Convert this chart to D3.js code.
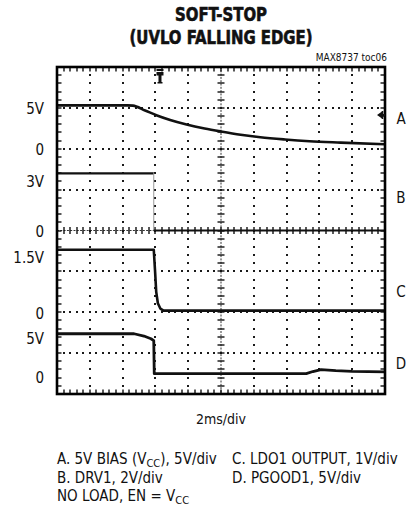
<!DOCTYPE html>
<html><head><meta charset="utf-8">
<script src="https://cdn.jsdelivr.net/npm/d3@7"></script>
<style>
body{margin:0;background:#fff;}
svg{display:block;}
text{font-family:"Liberation Sans Narrow","Arial Narrow","DejaVu Sans Condensed",sans-serif;fill:#111;}
</style></head>
<body><svg id="c" width="419" height="506"></svg>
<script>
// ---- data (oscilloscope traces; time in ms, values in volts) ----
const channels = ["A","B","C","D"];
const voltsPerDiv = [5, 2, 1, 5];
const zeroDiv = [2, 4, 6, 7.55];          // screen position of each channel's 0 V, in divisions from top

const aTime = [0, 4.3, 4.63, 5.37, 6.1, 6.9, 7.9, 9.0, 10.0, 11.2, 12.4, 13.9, 15.4, 17.3, 20];
const aVolt = [5.3, 5.3, 5.28, 4.68, 4.07, 3.52, 2.97, 2.48, 2.11, 1.71, 1.40, 1.13, 0.92, 0.75, 0.54];

const bTime = [0, 5.9, 5.9, 20];
const bVolt = [2.8, 2.8, 0, 0];

const cTime = [0, 5.9, 5.98, 6.05, 6.15, 6.3, 6.5, 20];
const cVolt = [1.53, 1.53, 1.0, 0.5, 0.22, 0.09, 0.04, 0.04];

const dTime = [0, 4.7, 5.3, 5.73, 5.9, 5.93, 15.2, 15.6, 16.1, 17, 18, 20];
const dVolt = [5.12, 5.12, 4.84, 4.51, 4.27, 0.24, 0.24, 0.5, 0.73, 0.6, 0.52, 0.45];

const tickLabels = ["5V","0","3V","0","1.5V","0","5V","0"];
const timePerDiv = 2;   // ms/div
const triggerTime = 6.28;
const titleLines = ["SOFT-STOP","(UVLO FALLING EDGE)"];
const legendLeft = [["A. 5V BIAS (V","CC","), 5V/div"],["B. DRV1, 2V/div"],["NO LOAD, EN = V","CC",""]];
const legendRight = [["C. LDO1 OUTPUT, 1V/div"],["D. PGOOD1, 5V/div"]];

// ---- layout ----
const L = 57, R = 385, T = 67, B = 394;
const nX = 10, nY = 8;
const svg = d3.select("#c");
const x = d3.scaleLinear().domain([0, nX*timePerDiv]).range([L, R]);
const yDiv = d3.scaleLinear().domain([0, nY]).range([T, B]);
const dW = (R-L)/nX, dH = (B-T)/nY;
const chY = (i, v) => yDiv(zeroDiv[i] - v/voltsPerDiv[i]);

// title
const titleW = [92, 183];
svg.selectAll("text.title").data(titleLines).join("text").attr("class","title")
  .attr("x", 221).attr("y", (d,i)=>21+i*23).attr("text-anchor","middle")
  .attr("textLength",(d,i)=>titleW[i]).attr("lengthAdjust","spacingAndGlyphs")
  .style("font-weight","bold").style("font-size","19px")
  .style("stroke","#111").style("stroke-width","0.6px").text(d=>d);
svg.append("text").attr("x",387).attr("y",61).attr("text-anchor","end")
  .style("font-size","10px").text("MAX8737 toc06");

// dotted grid: small square dots
const grid = svg.append("g").attr("class","grid");
const dots = [];
d3.range(1, nX).filter(i=>i!==5).forEach(i=>d3.range(1, nY*5).forEach(k=>dots.push([L+i*dW, T+k*dH/5])));
d3.range(1, nY).filter(j=>j!==4).forEach(j=>d3.range(1, nX*5).forEach(k=>dots.push([L+k*dW/5, T+j*dH])));
grid.selectAll("rect.dot").data(dots).join("rect").attr("class","dot")
  .attr("x",d=>Math.round(d[0])-1).attr("y",d=>Math.round(d[1])-1)
  .attr("width",2).attr("height",2).attr("fill","#1a1a1a");

// center cross with minor ticks
const cx = L+5*dW, cy = T+4*dH;
grid.append("line").attr("x1",cx).attr("x2",cx).attr("y1",T).attr("y2",B).attr("stroke","#333").attr("stroke-width",1)
  .attr("stroke-dasharray","2 1.3");
grid.append("line").attr("x1",L).attr("x2",R).attr("y1",cy).attr("y2",cy).attr("stroke","#333").attr("stroke-width",1)
  .attr("stroke-dasharray","2 1.3");
const cTicksV = d3.range(1, nY*5).map(k=>T+k*dH/5);
const cTicksH = d3.range(1, nX*5).map(k=>L+k*dW/5);
grid.selectAll("line.ctv").data(cTicksV).join("line").attr("class","ctv")
  .attr("x1",cx-3.5).attr("x2",cx+3.5).attr("y1",d=>Math.round(d)).attr("y2",d=>Math.round(d)).attr("stroke","#111").attr("stroke-width",1.4);
grid.selectAll("line.cth").data(cTicksH).join("line").attr("class","cth")
  .attr("y1",cy-3.5).attr("y2",cy+3.5).attr("x1",d=>Math.round(d)).attr("x2",d=>Math.round(d)).attr("stroke","#111").attr("stroke-width",1.4);

// frame ticks
const ft = [];
cTicksH.forEach(v=>{v=Math.round(v);ft.push([v,T,v,T+4.5]);ft.push([v,B,v,B-4.5]);});
cTicksV.forEach(v=>{v=Math.round(v);ft.push([L,v,L+4.5,v]);ft.push([R,v,R-4.5,v]);});
grid.selectAll("line.ft").data(ft).join("line").attr("class","ft")
  .attr("x1",d=>d[0]).attr("y1",d=>d[1]).attr("x2",d=>d[2]).attr("y2",d=>d[3]).attr("stroke","#111").attr("stroke-width",1.4);

// traces
const traces = [[aTime,aVolt,d3.curveMonotoneX,2.6],[bTime,bVolt,d3.curveLinear,2.2],[cTime,cVolt,d3.curveLinear,2.6],[dTime,dVolt,d3.curveLinear,2.8]];
traces.forEach((tr,i)=>{
  const pts = tr[0].map((t,k)=>[x(t), chY(i, tr[1][k])]);
  if (i===1){
    for (let k=0;k<pts.length-1;k++){
      const vert = Math.abs(pts[k][0]-pts[k+1][0])<0.5;
      svg.append("path").attr("d",d3.line()([pts[k],pts[k+1]])).attr("fill","none")
        .attr("stroke", vert?"#999":"#111").attr("stroke-width", vert?1:tr[3]);
    }
  } else {
    svg.append("path").attr("d", d3.line().curve(tr[2])(pts)).attr("fill","none")
      .attr("stroke","#111").attr("stroke-width",tr[3]).attr("stroke-linejoin","round");
  }
});

// frame
svg.append("rect").attr("x",L).attr("y",T).attr("width",R-L).attr("height",B-T)
  .attr("fill","none").attr("stroke","#000").attr("stroke-width",2.6);

// trigger marker
const tx = x(triggerTime);
svg.append("rect").attr("x",tx-3.5).attr("y",69).attr("width",7).attr("height",2).attr("fill","#111");
svg.append("path").attr("d",`M${tx-3.5},72 h7 v3.5 h-2 v6.5 h-3 v-6.5 h-2 z`).attr("fill","#111");
svg.append("rect").attr("x",tx-2.5).attr("y",82).attr("width",5).attr("height",1.5).attr("fill","#111");

// ground arrow for A
svg.append("path").attr("d",`M${R-8},${115} l5,-3.5 v2.5 h3 v2 h-3 v2.5 z`).attr("fill","#111");
svg.append("line").attr("x1",R-2.5).attr("x2",R-2.5).attr("y1",111).attr("y2",119).attr("stroke","#111").attr("stroke-width",1.5);

// left tick labels
const tickDiv = [1.02, 2.03, 2.8, 4.03, 4.67, 6.03, 6.65, 7.6];
svg.selectAll("text.tl").data(tickLabels).join("text").attr("class","tl")
  .attr("x",44).attr("y",(d,i)=>yDiv(tickDiv[i])+5.5).attr("text-anchor","end")
  .style("font-size","15px").text(d=>d);

// right channel labels
const chLabelDiv = [1.25, 3.2, 5.5, 7.25];
svg.selectAll("text.cl").data(channels).join("text").attr("class","cl")
  .attr("x",401).attr("y",(d,i)=>yDiv(chLabelDiv[i])+5.5).attr("text-anchor","middle")
  .style("font-size","15px").text(d=>d);

// x axis label
svg.append("text").attr("x",221).attr("y",424).attr("text-anchor","middle").style("font-size","14px").text(timePerDiv+"ms/div");

// legend
function legendLine(parts, xx, yy){
  const t = svg.append("text").attr("x",xx).attr("y",yy).style("font-size","15px");
  t.append("tspan").text(parts[0]);
  if (parts.length>1){
    t.append("tspan").attr("dy",3).style("font-size","11px").text(parts[1]);
    t.append("tspan").attr("dy",-3).text(parts[2]);
  }
}
legendLeft.forEach((p,i)=>legendLine(p, 57, 464+i*18.5));
legendRight.forEach((p,i)=>legendLine(p, 232, 464+i*18.5));
</script></body></html>
